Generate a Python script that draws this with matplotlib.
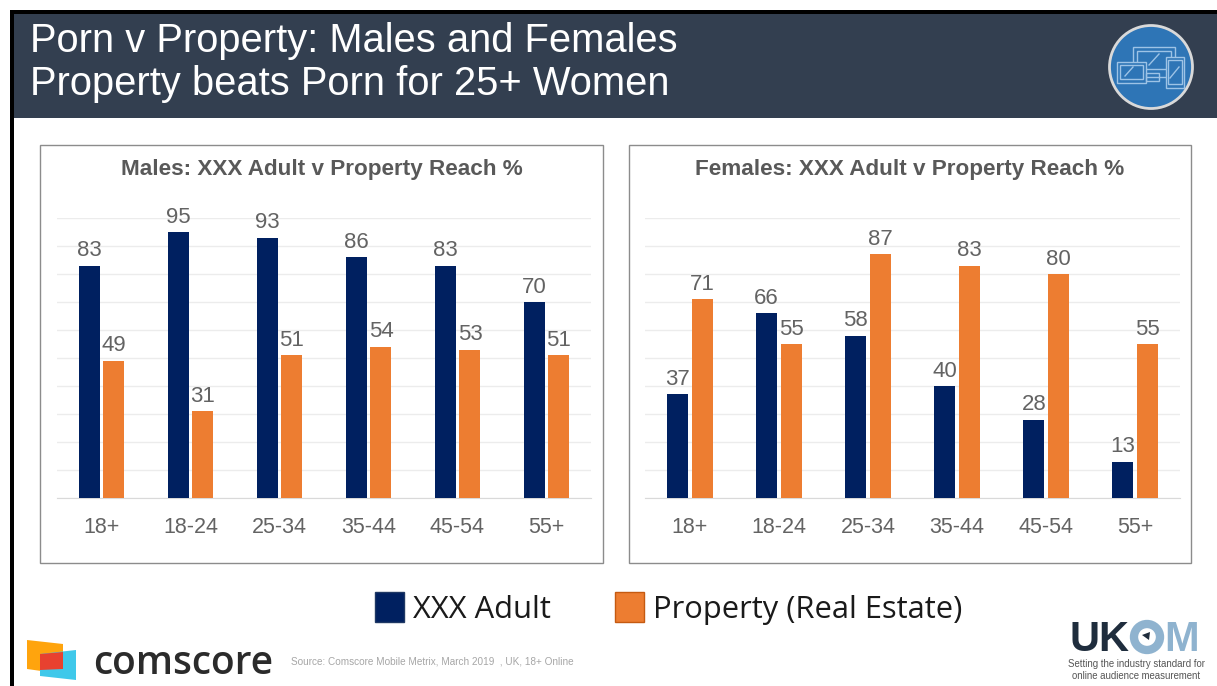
import matplotlib
matplotlib.use('Agg')
import matplotlib.pyplot as plt
from matplotlib.patches import Rectangle, Circle, Polygon

W, H = 1217, 686

plt.rcParams['font.family'] = ['Liberation Sans', 'DejaVu Sans']

# data
ages = ['18+', '18-24', '25-34', '35-44', '45-54', '55+']
males_adult = [83, 95, 93, 86, 83, 70]
males_property = [49, 31, 51, 54, 53, 51]
females_adult = [37, 66, 58, 40, 28, 13]
females_property = [71, 55, 87, 83, 80, 55]

NAVY = '#002060'
ORANGE = '#ed7d31'
GREY = '#636363'


# pixel box -> figure axes (y counted from the top like in the picture)
def px_axes(fig, x0, y0, x1, y1):
    return fig.add_axes([x0 / W, 1 - y1 / H, (x1 - x0) / W, (y1 - y0) / H])


def draw_panel(fig, box, plot_x, title, adult, prop):
    # panel frame
    fig.patches.append(Rectangle((box[0] / W, 1 - box[3] / H), (box[2] - box[0]) / W, (box[3] - box[1]) / H,
                                 transform=fig.transFigure, fc='none', ec='#8c8c8c', lw=1.0, zorder=-1))
    ax = px_axes(fig, plot_x[0], 218, plot_x[1], 498)
    ax.set_facecolor('none')
    pos = range(len(ages))
    w = 0.236
    off = 0.14
    ax.bar([p - off for p in pos], adult, w, color=NAVY, zorder=3)
    ax.bar([p + off for p in pos], prop, w, color=ORANGE, zorder=3)
    for p, a, b in zip(pos, adult, prop):
        ax.text(p - off, a + 1.6, str(a), ha='center', va='bottom', fontsize=16, color=GREY, zorder=4)
        ax.text(p + off, b + 1.6, str(b), ha='center', va='bottom', fontsize=16, color=GREY, zorder=4)
    ax.set_xlim(-0.5, 5.5)
    ax.set_ylim(0, 100)
    ax.set_yticks(range(0, 101, 10))
    ax.set_xticks(list(pos))
    ax.set_xticklabels(ages, fontsize=15.5, color=GREY)
    ax.tick_params(axis='y', left=False, labelleft=False)
    ax.tick_params(axis='x', bottom=False, pad=10)
    ax.grid(axis='y', color='#ececec', lw=1, zorder=0)
    for s in ['top', 'left', 'right']:
        ax.spines[s].set_visible(False)
    ax.spines['bottom'].set_color('#d9d9d9')
    fig.text((box[0] + box[2]) / 2 / W, 1 - 169 / H, title, ha='center', va='center',
             fontsize=16.2, fontweight='bold', color='#595959')


fig = plt.figure(figsize=(W / 100, H / 100), dpi=100, facecolor='white')

draw_panel(fig, (40, 145, 603, 563), (57, 591), 'Males: XXX Adult v Property Reach %', males_adult, males_property)
draw_panel(fig, (629, 145, 1191, 563), (645, 1180), 'Females: XXX Adult v Property Reach %', females_adult, females_property)

# overlay in pixels for the slide furniture
deco = fig.add_axes([0, 0, 1, 1], zorder=5)
deco.set_xlim(0, W)
deco.set_ylim(H, 0)
deco.axis('off')
deco.patch.set_alpha(0)

deco.add_patch(Rectangle((13, 13), W - 13, 105, fc='#333f50', ec='none'))
deco.add_patch(Rectangle((10, 10), W - 10, 3.5, fc='black', ec='none'))
deco.add_patch(Rectangle((10, 10), 3.5, H - 10, fc='black', ec='none'))
deco.text(30, 41, 'Porn v Property: Males and Females', fontsize=28.7, color='white', va='center')
deco.text(30, 84, 'Property beats Porn for 25+ Women', fontsize=28.7, color='white', va='center')

# device icon
deco.add_patch(Circle((1151, 67), 41.5, fc='#2e75b6', ec='#d9d9d9', lw=2))
icon = dict(fc='none', ec='#9dc3e6', lw=1.0)
solid = dict(fc='#2e75b6', ec='#9dc3e6', lw=1.0)
deco.add_patch(Rectangle((1133, 47), 42, 30, **icon))
deco.add_patch(Rectangle((1137, 51), 34, 18, **icon))
deco.plot([1149, 1159], [65, 54], color='#9dc3e6', lw=1)
deco.add_patch(Rectangle((1117, 62), 29, 21, **solid))
deco.add_patch(Rectangle((1120, 65), 23, 14, **icon))
deco.plot([1125, 1133], [76, 67], color='#9dc3e6', lw=1)
deco.add_patch(Rectangle((1166, 57), 18, 31, **solid))
deco.add_patch(Rectangle((1168, 60), 14, 24, **icon))
deco.plot([1170, 1179], [78, 67], color='#9dc3e6', lw=1)
deco.add_patch(Rectangle((1146, 73), 13, 8, **icon))

# legend
deco.add_patch(Rectangle((375, 592), 29, 30, fc=NAVY, ec='#1f3864', lw=1))
deco.text(413, 610, 'XXX Adult', fontsize=22.2, color='#1a1a1a', va='center', family=['Open Sans', 'DejaVu Sans'])
deco.add_patch(Rectangle((615, 592), 29, 30, fc=ORANGE, ec='#c55a11', lw=1))
deco.text(653, 610, 'Property (Real Estate)', fontsize=22.2, color='#1a1a1a', va='center', family=['Open Sans', 'DejaVu Sans'])

# comscore logo
deco.add_patch(Polygon([(27, 640), (63, 644), (63, 674), (27, 669)], fc='#ffa40d', ec='none'))
deco.add_patch(Polygon([(40, 654), (76, 650), (76, 680), (40, 676)], fc='#3fc8ea', ec='none'))
deco.add_patch(Polygon([(40, 654), (63, 652), (63, 669), (40, 670)], fc='#e8412f', ec='none'))
deco.text(93, 664, 'comscore', fontsize=28, fontweight='semibold', color='#2b2b2b', va='center', family=['Open Sans', 'DejaVu Sans'])
deco.text(291, 661, 'Source: Comscore Mobile Metrix, March 2019  , UK, 18+ Online', fontsize=7.2, color='#a6a6a6', va='center')

# UKOM logo
deco.text(1069, 651, 'UK', fontsize=30, fontweight='bold', color='#1f2d3d', va='baseline')
deco.add_patch(Circle((1147, 637), 13, fc='none', ec='#8fb3cf', lw=6))
deco.add_patch(Polygon([(1142, 635), (1150, 632), (1149, 640)], fc='#1f2d3d', ec='none'))
deco.text(1164, 651, 'M', fontsize=30, fontweight='bold', color='#8fb3cf', va='baseline')
deco.text(1136, 664, 'Setting the industry standard for', fontsize=6.9, color='#555555', ha='center', va='center')
deco.text(1136, 676, 'online audience measurement', fontsize=6.9, color='#555555', ha='center', va='center')

fig.savefig('out.png', dpi=100)
